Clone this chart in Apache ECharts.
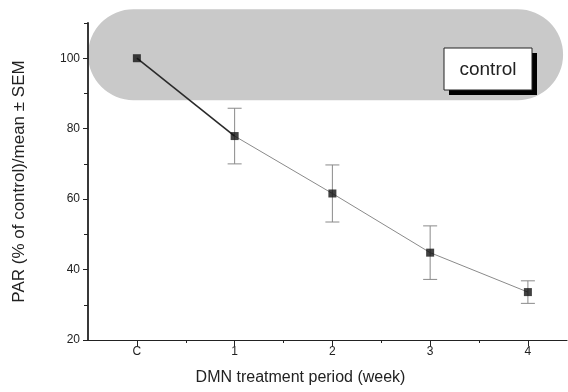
<!DOCTYPE html>
<html>
<head>
<meta charset="utf-8">
<script src="https://cdn.jsdelivr.net/npm/echarts@6/dist/echarts.min.js"></script>
<style>
  html, body { margin: 0; padding: 0; background: #fff; }
  #main { width: 568px; height: 392px; }
</style>
</head>
<body>
<div id="main"></div>
<script>
// data
var weeks = [0, 1, 2, 3, 4];
var weekLabels = ['C', '1', '2', '3', '4'];
var parMean = [100, 77.9, 61.6, 44.8, 33.6];
var parSem = [0, 7.9, 8.1, 7.6, 3.2];
var yMajor = [20, 40, 60, 80, 100];
var yMinor = [30, 50, 70, 90, 110];
var xMinor = [0.5, 1.5, 2.5, 3.5];

var chart = echarts.init(document.getElementById('main'));

var tickFont = 'Liberation Sans Narrow, Arial Narrow, Liberation Sans, sans-serif';

// first segment (control -> week 1) is drawn darker
var seg1 = [], seg2 = [], pts = [], bars = [];
for (var i = 0; i < weeks.length; i++) {
  seg1.push(i <= 1 ? [weeks[i], parMean[i]] : [weeks[i], null]);
  seg2.push(i >= 1 ? [weeks[i], parMean[i]] : [weeks[i], null]);
  pts.push([weeks[i], parMean[i]]);
  if (parSem[i] > 0) bars.push([weeks[i], parMean[i] - parSem[i], parMean[i] + parSem[i]]);
}

function renderErr(params, api) {
  var x = api.value(0);
  var lo = api.coord([x, api.value(1)]);
  var hi = api.coord([x, api.value(2)]);
  var hw = 7;
  var st = { stroke: '#8a8a8a', lineWidth: 1 };
  return {
    type: 'group',
    children: [
      { type: 'line', shape: { x1: hi[0], y1: hi[1], x2: lo[0], y2: lo[1] }, style: st },
      { type: 'line', shape: { x1: hi[0] - hw, y1: hi[1], x2: hi[0] + hw, y2: hi[1] }, style: st },
      { type: 'line', shape: { x1: lo[0] - hw, y1: lo[1], x2: lo[0] + hw, y2: lo[1] }, style: st }
    ]
  };
}

var option = {
  animation: false,
  grid: { left: 88, right: 1, top: 23, bottom: 52 },
  xAxis: [{
    type: 'value',
    min: -0.5,
    max: 4.4,
    name: 'DMN treatment period (week)',
    nameLocation: 'middle',
    nameGap: 30,
    nameTextStyle: { fontSize: 16, color: '#222', fontFamily: 'Liberation Sans, Arial, sans-serif', padding: [0, 54, 0, 0] },
    splitLine: { show: false },
    axisLine: { onZero: false, lineStyle: { color: '#222', width: 1.2 } },
    axisTick: { length: 6, customValues: weeks, lineStyle: { color: '#222' } },
    axisLabel: {
      customValues: weeks,
      margin: 6,
      fontSize: 12,
      color: '#222',
      fontFamily: tickFont,
      formatter: function (v) { return weekLabels[weeks.indexOf(v)] || ''; }
    }
  }, {
    type: 'value',
    min: -0.5,
    max: 4.4,
    position: 'bottom',
    splitLine: { show: false },
    axisLine: { show: false, onZero: false },
    axisTick: { length: 3, customValues: xMinor, lineStyle: { color: '#222' } },
    axisLabel: { show: false }
  }],
  yAxis: [{
    type: 'value',
    min: 20,
    max: 110,
    name: 'PAR (% of control)/mean \u00b1 SEM',
    nameLocation: 'middle',
    nameGap: 60,
    nameTextStyle: { fontSize: 17, color: '#222', fontFamily: 'Liberation Sans, Arial, sans-serif' },
    splitLine: { show: false },
    axisLine: { onZero: false, lineStyle: { color: '#222', width: 1.8 } },
    axisTick: { length: 5, customValues: yMajor, lineStyle: { color: '#222' } },
    axisLabel: {
      customValues: yMajor,
      margin: 8,
      fontSize: 12,
      color: '#222',
      fontFamily: tickFont
    }
  }, {
    type: 'value',
    min: 20,
    max: 110,
    position: 'left',
    splitLine: { show: false },
    axisLine: { show: false, onZero: false },
    axisTick: { length: 4, customValues: yMinor, lineStyle: { color: '#222' } },
    axisLabel: { show: false }
  }],
  series: [{
    name: 'first',
    type: 'line',
    data: seg1,
    showSymbol: false,
    lineStyle: { color: '#2a2a2a', width: 1.6 },
    z: 3
  }, {
    name: 'rest',
    type: 'line',
    data: seg2,
    showSymbol: false,
    lineStyle: { color: '#8a8a8a', width: 1 },
    z: 3
  }, {
    name: 'sem',
    type: 'custom',
    renderItem: renderErr,
    data: bars,
    z: 2
  }, {
    name: 'PAR',
    type: 'scatter',
    data: pts,
    symbol: 'rect',
    symbolSize: 8,
    itemStyle: { color: '#111' },
    z: 4
  }]
};

chart.setOption(option);

// gray "control" band and its label box
var pTop = chart.convertToPixel({ gridIndex: 0 }, [-0.5, 113.9]);
var pBot = chart.convertToPixel({ gridIndex: 0 }, [4.36, 88.1]);
var bx = pTop[0], by = pTop[1], bw = pBot[0] - pTop[0], bh = pBot[1] - pTop[1];

chart.setOption({
  graphic: [{
    type: 'rect',
    z: 0,
    zlevel: 0,
    silent: true,
    shape: { x: bx, y: by, width: bw, height: bh, r: bh / 2 },
    style: { fill: '#c9c9c9' }
  }, {
    type: 'rect',
    z: 10,
    silent: true,
    shape: { x: 449, y: 53, width: 88, height: 42 },
    style: { fill: '#000' }
  }, {
    type: 'rect',
    z: 11,
    silent: true,
    shape: { x: 444, y: 48, width: 88, height: 42 },
    style: { fill: '#fff', stroke: '#222', lineWidth: 1 }
  }, {
    type: 'text',
    z: 12,
    silent: true,
    x: 488,
    y: 70,
    style: {
      text: 'control',
      fill: '#222',
      font: '19px "Liberation Sans", Arial, sans-serif',
      align: 'center',
      verticalAlign: 'middle'
    }
  }]
});
</script>
</body>
</html>
